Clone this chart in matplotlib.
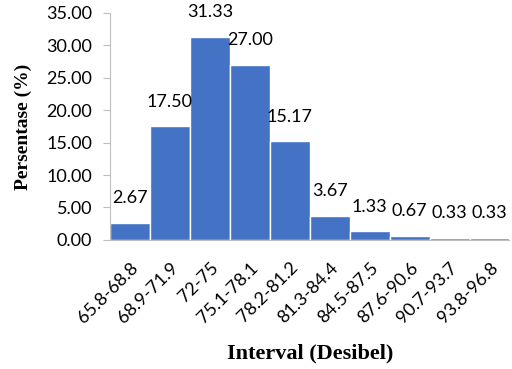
import matplotlib
matplotlib.use("Agg")
import matplotlib.pyplot as plt

intervals = ["65.8-68.8", "68.9-71.9", "72-75", "75.1-78.1", "78.2-81.2",
             "81.3-84.4", "84.5-87.5", "87.6-90.6", "90.7-93.7", "93.8-96.8"]
persen = [2.67, 17.50, 31.33, 27.00, 15.17, 3.67, 1.33, 0.67, 0.33, 0.33]

fig = plt.figure(figsize=(5.12, 3.69), dpi=100)
ax = fig.add_axes([0.215, 0.35, 0.78, 0.615])

x = list(range(len(intervals)))
ax.bar(x, persen, width=1.0, color="#4472C4", edgecolor="white", linewidth=1)

for xi, v in zip(x, persen):
    ax.annotate(f"{v:.2f}", (xi, v), xytext=(0, 12), textcoords="offset points",
                ha="center", va="bottom", fontsize=13, family="Lato")

ax.set_xlim(-0.5, len(intervals) - 0.5)
ax.set_ylim(0, 35)
ax.set_yticks(range(0, 36, 5))
ax.set_yticklabels([f"{t:.2f}" for t in range(0, 36, 5)], family="Lato", fontsize=13)
ax.set_xticks(x)
ax.set_xticklabels(intervals, rotation=45, ha="right", rotation_mode="anchor",
                   family="Lato", fontsize=13)
ax.tick_params(axis="x", length=0, pad=14)
ax.tick_params(axis="y", length=5, color="#BFBFBF", pad=8)

for s in ["top", "right"]:
    ax.spines[s].set_visible(False)
for s in ["left", "bottom"]:
    ax.spines[s].set_color("#BFBFBF")

ax.set_ylabel("Persentase (%)", family="Liberation Serif", fontweight="bold", fontsize=14,
              labelpad=10)
ax.set_xlabel("Interval (Desibel)", family="Liberation Serif", fontweight="bold", fontsize=16,
              labelpad=13)

fig.savefig("out.png", dpi=100)
